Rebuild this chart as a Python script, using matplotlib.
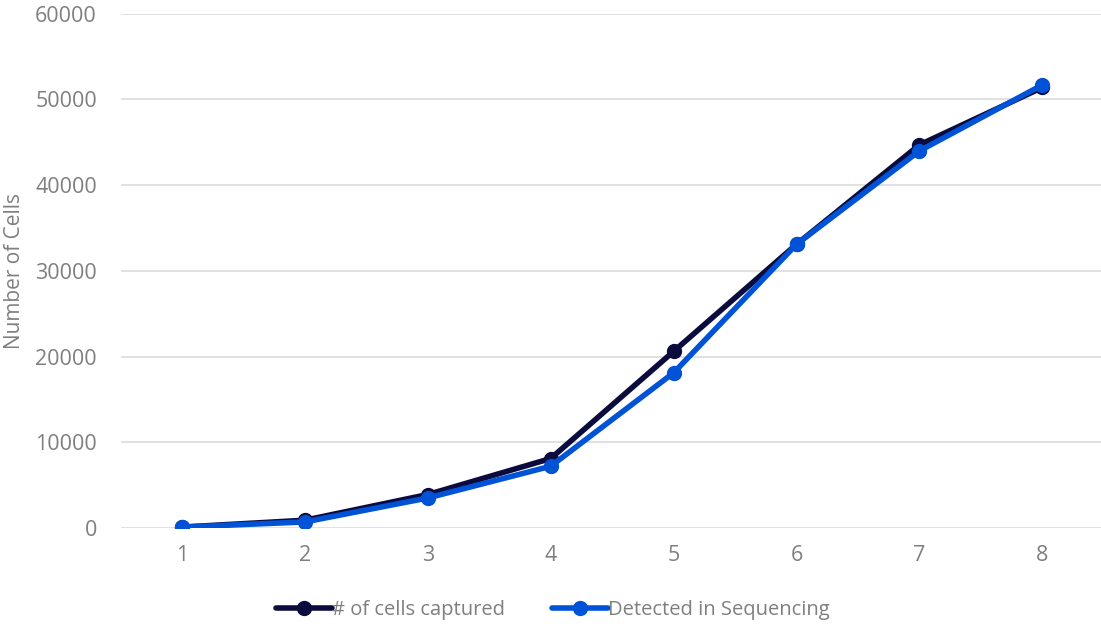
import matplotlib.pyplot as plt

# Sample index and cell counts per sample
samples = [1, 2, 3, 4, 5, 6, 7, 8]
cells_captured = [100, 900, 3900, 8100, 20600, 33100, 44700, 51400]
detected_in_seq = [100, 700, 3500, 7200, 18100, 33100, 44000, 51700]
y_ticks = [0, 10000, 20000, 30000, 40000, 50000, 60000]

plt.rcParams['font.family'] = ['Open Sans', 'DejaVu Sans']
grey = '#7F7F7F'

fig = plt.figure(figsize=(11.01, 6.27), dpi=100)
ax = fig.add_axes([0.1095, 0.158, 0.893, 0.820])

ax.plot(samples, cells_captured, color='#0B0B3E', lw=4, marker='o', ms=10,
        solid_capstyle='round', label='# of cells captured', zorder=3)
ax.plot(samples, detected_in_seq, color='#0052D6', lw=4, marker='o', ms=10,
        solid_capstyle='round', label='Detected in Sequencing', zorder=4)

ax.set_xlim(0.5, 8.5)
ax.set_ylim(0, 60000)
ax.set_yticks(y_ticks)
ax.set_xticks(samples)
ax.yaxis.grid(True, color='#DEDEDE', lw=1.3)
ax.set_axisbelow(True)
for s in ax.spines.values():
    s.set_visible(False)
ax.tick_params(length=0, labelsize=15.5, labelcolor=grey)
ax.tick_params(axis='y', pad=17)
ax.tick_params(axis='x', pad=12)
ax.set_ylabel('Number of Cells', fontsize=15, color=grey)
ax.yaxis.set_label_coords(-0.097, 0.5)

leg = fig.legend(loc='center', bbox_to_anchor=(0.502, 0.027), ncol=2,
                 frameon=False, fontsize=14.5, handlelength=2.8,
                 handletextpad=0.0, columnspacing=2.3)
for t in leg.get_texts():
    t.set_color(grey)

fig.savefig('out.png', dpi=100)
